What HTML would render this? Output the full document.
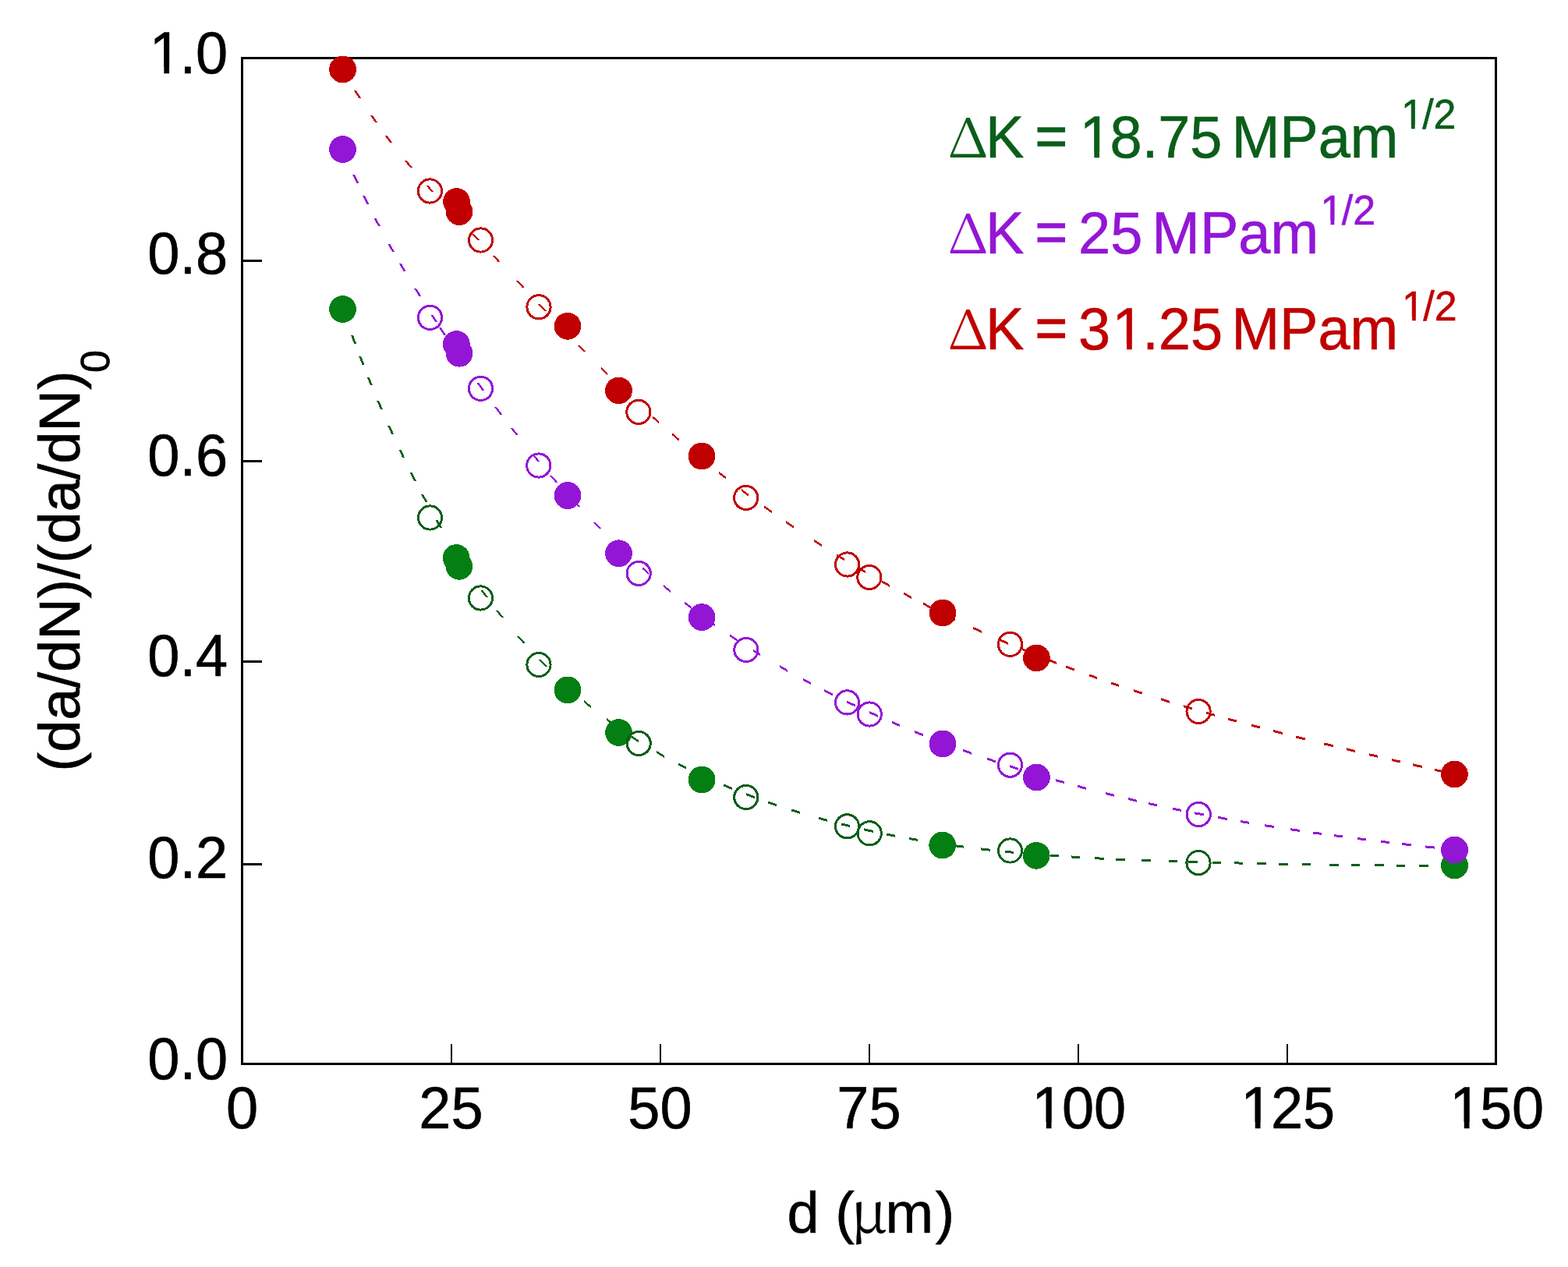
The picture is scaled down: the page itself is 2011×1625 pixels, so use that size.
<!DOCTYPE html><html><head><meta charset="utf-8"><title>chart</title><style>html,body{margin:0;padding:0;background:#fff;overflow:hidden}svg{display:block}.c{shape-rendering:crispEdges}text{font-family:"Liberation Sans",Arial,sans-serif;font-size:74px;stroke:#000;stroke-width:0.6px}</style></head><body>
<svg width="2011" height="1625" viewBox="0 0 2011 1625">
<rect width="2011" height="1625" fill="#fff"/>
<g class="c">
<g fill="#000">
<rect x="309" y="73" width="1611" height="3"/>
<rect x="309" y="1363" width="1611" height="3"/>
<rect x="309" y="73" width="3" height="1293"/>
<rect x="1917" y="73" width="3" height="1293"/>
<rect x="309" y="333" width="27" height="3"/>
<rect x="309" y="590" width="27" height="3"/>
<rect x="309" y="847" width="27" height="3"/>
<rect x="309" y="1107" width="27" height="3"/>
<rect x="577.5" y="1339" width="2" height="25"/>
<rect x="845.5" y="1339" width="2" height="25"/>
<rect x="1113.5" y="1339" width="2" height="25"/>
<rect x="1381.5" y="1339" width="2" height="25"/>
<rect x="1649.5" y="1339" width="2" height="25"/>
</g>
<path d="M439.5,400.7 440.4,403.4 441.4,406.1 442.4,408.8 443.3,411.5 446.3,411.5 445.4,408.8 444.4,406.1 443.4,403.4 442.5,400.7ZM450.0,429.8 451.0,432.5 452.0,435.2 453.0,437.9 454.0,440.6 457.0,440.6 456.0,437.9 455.0,435.2 454.0,432.5 453.0,429.8ZM460.2,456.7 461.2,459.4 462.2,462.1 463.3,464.8 464.3,467.5 467.3,467.5 466.3,464.8 465.2,462.1 464.2,459.4 463.2,456.7ZM470.8,483.8 471.9,486.4 472.9,489.1 474.0,491.8 475.1,494.4 478.1,494.4 477.0,491.8 475.9,489.1 474.9,486.4 473.8,483.8ZM483.3,514.1 484.4,516.8 485.5,519.4 486.7,522.1 487.8,524.7 490.8,524.7 489.7,522.1 488.5,519.4 487.4,516.8 486.3,514.1ZM497.2,546.2 498.4,548.8 499.6,551.4 500.8,554.0 501.9,556.7 504.9,556.7 503.8,554.0 502.6,551.4 501.4,548.8 500.2,546.2ZM511.4,576.9 512.6,579.5 513.8,582.1 515.1,584.7 516.3,587.3 519.3,587.3 518.1,584.7 516.8,582.1 515.6,579.5 514.4,576.9ZM525.7,606.4 527.0,609.0 528.3,611.6 529.6,614.1 530.9,616.7 533.9,616.7 532.6,614.1 531.3,611.6 530.0,609.0 528.7,606.4ZM539.9,633.8 541.2,636.3 542.6,638.8 544.0,641.4 545.3,643.9 548.3,643.9 547.0,641.4 545.6,638.8 544.2,636.3 542.9,633.8ZM558.5,667.4 559.9,669.9 561.4,672.4 562.8,674.9 564.3,677.4 567.3,677.4 565.8,674.9 564.4,672.4 562.9,669.9 561.5,667.4ZM616.0,756.6 617.7,758.9 619.4,761.2 621.1,763.5 622.8,765.9 625.8,765.9 624.1,763.5 622.4,761.2 620.7,758.9 619.0,756.6ZM635.5,782.6 637.3,784.8 639.1,787.1 640.9,789.3 642.7,791.6 645.7,791.6 643.9,789.3 642.1,787.1 640.3,784.8 638.5,782.6ZM662.9,815.8 664.8,818.0 666.7,820.1 668.6,822.3 670.5,824.5 673.5,824.5 671.6,822.3 669.7,820.1 667.8,818.0 665.9,815.8ZM690.7,846.4 692.7,848.4 694.7,850.5 696.7,852.5 698.8,854.6 701.8,854.6 699.7,852.5 697.7,850.5 695.7,848.4 693.7,846.4ZM729.3,880.9 731.5,882.8 733.6,884.8 735.8,886.7 737.9,888.6 737.9,891.6 735.8,889.7 733.6,887.8 731.5,885.8 729.3,883.9ZM748.8,897.9 751.1,899.7 753.3,901.6 755.5,903.4 757.7,905.2 757.7,908.2 755.5,906.4 753.3,904.6 751.1,902.7 748.8,900.9ZM778.2,921.1 780.5,922.8 782.8,924.5 785.1,926.2 787.5,927.9 787.5,930.9 785.1,929.2 782.8,927.5 780.5,925.8 778.2,924.1ZM808.8,942.6 811.2,944.2 813.6,945.8 816.1,947.3 818.5,948.9 818.5,951.9 816.1,950.3 813.6,948.8 811.2,947.2 808.8,945.6ZM842.2,963.2 844.7,964.6 847.2,966.1 849.7,967.5 852.2,968.9 852.2,971.9 849.7,970.5 847.2,969.1 844.7,967.6 842.2,966.2ZM870.1,978.5 872.7,979.8 875.2,981.1 877.8,982.4 880.4,983.7 880.4,986.7 877.8,985.4 875.2,984.1 872.7,982.8 870.1,981.5ZM899.0,992.6 901.6,993.8 904.2,995.0 906.8,996.2 909.4,997.4 909.4,1000.4 906.8,999.2 904.2,998.0 901.6,996.8 899.0,995.6ZM928.4,1005.6 931.0,1006.7 933.7,1007.8 936.4,1008.9 939.0,1010.0 939.0,1013.0 936.4,1011.9 933.7,1010.8 931.0,1009.7 928.4,1008.6ZM957.1,1017.1 959.8,1018.2 962.5,1019.2 965.1,1020.2 967.8,1021.2 967.8,1024.2 965.1,1023.2 962.5,1022.2 959.8,1021.2 957.1,1020.1ZM985.1,1027.4 987.8,1028.3 990.5,1029.3 993.2,1030.2 995.9,1031.1 995.9,1034.1 993.2,1033.2 990.5,1032.3 987.8,1031.3 985.1,1030.4ZM1014.7,1037.3 1017.5,1038.1 1020.2,1039.0 1023.0,1039.8 1025.7,1040.7 1025.7,1043.7 1023.0,1042.8 1020.2,1042.0 1017.5,1041.1 1014.7,1040.3ZM1049.9,1047.7 1052.6,1048.5 1055.4,1049.2 1058.2,1050.0 1060.9,1050.7 1060.9,1053.7 1058.2,1053.0 1055.4,1052.2 1052.6,1051.5 1049.9,1050.7ZM1078.8,1055.4 1081.6,1056.1 1084.4,1056.7 1087.2,1057.4 1090.0,1058.1 1090.0,1061.1 1087.2,1060.4 1084.4,1059.7 1081.6,1059.1 1078.8,1058.4ZM1108.3,1062.4 1111.1,1063.0 1113.9,1063.6 1116.7,1064.2 1119.5,1064.8 1119.5,1067.8 1116.7,1067.2 1113.9,1066.6 1111.1,1066.0 1108.3,1065.4ZM1136.5,1068.4 1139.3,1068.9 1142.2,1069.5 1145.0,1070.0 1147.8,1070.6 1147.8,1073.6 1145.0,1073.0 1142.2,1072.5 1139.3,1071.9 1136.5,1071.4ZM1165.7,1073.9 1168.6,1074.4 1171.4,1074.9 1174.2,1075.4 1177.1,1075.9 1177.1,1078.9 1174.2,1078.4 1171.4,1077.9 1168.6,1077.4 1165.7,1076.9ZM1195.0,1078.8 1197.9,1079.3 1200.7,1079.7 1203.6,1080.1 1206.4,1080.5 1206.4,1083.5 1203.6,1083.1 1200.7,1082.7 1197.9,1082.3 1195.0,1081.8ZM1224.4,1083.1 1227.3,1083.5 1230.1,1083.9 1233.0,1084.3 1235.8,1084.6 1235.8,1087.6 1233.0,1087.3 1230.1,1086.9 1227.3,1086.5 1224.4,1086.1ZM1258.4,1087.4 1261.2,1087.7 1264.1,1088.1 1267.0,1088.4 1269.8,1088.7 1269.8,1091.7 1267.0,1091.4 1264.1,1091.1 1261.2,1090.7 1258.4,1090.4ZM1288.8,1090.7 1291.7,1091.0 1294.5,1091.2 1297.4,1091.5 1300.3,1091.8 1300.3,1094.8 1297.4,1094.5 1294.5,1094.2 1291.7,1094.0 1288.8,1093.7ZM1317.7,1093.3 1320.5,1093.6 1323.4,1093.8 1326.3,1094.1 1329.1,1094.3 1329.1,1097.3 1326.3,1097.1 1323.4,1096.8 1320.5,1096.6 1317.7,1096.3ZM1346.6,1095.6 1349.4,1095.8 1352.3,1096.0 1355.2,1096.2 1358.0,1096.4 1358.0,1099.4 1355.2,1099.2 1352.3,1099.0 1349.4,1098.8 1346.6,1098.6ZM1373.7,1097.4 1376.5,1097.6 1379.4,1097.8 1382.3,1098.0 1385.1,1098.1 1385.1,1101.1 1382.3,1101.0 1379.4,1100.8 1376.5,1100.6 1373.7,1100.4ZM1404.3,1099.2 1407.2,1099.3 1410.1,1099.5 1412.9,1099.6 1415.8,1099.7 1415.8,1102.7 1412.9,1102.6 1410.1,1102.5 1407.2,1102.3 1404.3,1102.2ZM1431.4,1100.5 1434.3,1100.6 1437.2,1100.7 1440.0,1100.8 1442.9,1101.0 1442.9,1104.0 1440.0,1103.8 1437.2,1103.7 1434.3,1103.6 1431.4,1103.5ZM1464.2,1101.8 1467.1,1101.9 1470.0,1102.0 1472.8,1102.1 1475.7,1102.2 1475.7,1105.2 1472.8,1105.1 1470.0,1105.0 1467.1,1104.9 1464.2,1104.8ZM1498.7,1103.0 1501.6,1103.0 1504.4,1103.1 1507.3,1103.2 1510.2,1103.3 1510.2,1106.3 1507.3,1106.2 1504.4,1106.1 1501.6,1106.0 1498.7,1106.0ZM1524.3,1103.7 1527.2,1103.8 1530.1,1103.9 1533.0,1104.0 1535.8,1104.1 1535.8,1107.1 1533.0,1107.0 1530.1,1106.9 1527.2,1106.8 1524.3,1106.7ZM1554.8,1104.6 1557.6,1104.7 1560.5,1104.7 1563.4,1104.8 1566.3,1104.9 1566.3,1107.9 1563.4,1107.8 1560.5,1107.7 1557.6,1107.7 1554.8,1107.6ZM1582.8,1105.3 1585.7,1105.4 1588.6,1105.5 1591.4,1105.5 1594.3,1105.6 1594.3,1108.6 1591.4,1108.5 1588.6,1108.5 1585.7,1108.4 1582.8,1108.3ZM1612.3,1106.0 1615.2,1106.1 1618.0,1106.1 1620.9,1106.2 1623.8,1106.3 1623.8,1109.3 1620.9,1109.2 1618.0,1109.1 1615.2,1109.1 1612.3,1109.0ZM1640.3,1106.6 1643.2,1106.7 1646.1,1106.7 1649.0,1106.8 1651.8,1106.8 1651.8,1109.8 1649.0,1109.8 1646.1,1109.7 1643.2,1109.7 1640.3,1109.6ZM1669.8,1107.2 1672.7,1107.2 1675.6,1107.3 1678.4,1107.3 1681.3,1107.4 1681.3,1110.4 1678.4,1110.3 1675.6,1110.3 1672.7,1110.2 1669.8,1110.2ZM1705.2,1107.7 1708.1,1107.8 1711.0,1107.8 1713.9,1107.8 1716.7,1107.9 1716.7,1110.9 1713.9,1110.8 1711.0,1110.8 1708.1,1110.8 1705.2,1110.7ZM1732.8,1108.1 1735.7,1108.1 1738.6,1108.1 1741.4,1108.1 1744.3,1108.2 1744.3,1111.2 1741.4,1111.1 1738.6,1111.1 1735.7,1111.1 1732.8,1111.1ZM1763.2,1108.3 1766.1,1108.4 1769.0,1108.4 1771.9,1108.4 1774.7,1108.4 1774.7,1111.4 1771.9,1111.4 1769.0,1111.4 1766.1,1111.4 1763.2,1111.3ZM1790.8,1108.5 1793.7,1108.5 1796.6,1108.5 1799.4,1108.5 1802.3,1108.5 1802.3,1111.5 1799.4,1111.5 1796.6,1111.5 1793.7,1111.5 1790.8,1111.5ZM1820.3,1108.5 1823.2,1108.5 1826.0,1108.5 1828.9,1108.5 1831.8,1108.5 1831.8,1111.5 1828.9,1111.5 1826.0,1111.5 1823.2,1111.5 1820.3,1111.5ZM1851.3,1108.5 1854.2,1108.5 1857.0,1108.5 1859.9,1108.4 1862.8,1108.4 1862.8,1111.4 1859.9,1111.4 1857.0,1111.5 1854.2,1111.5 1851.3,1111.5Z" fill="#0A5E1A"/>
<path d="M439.8,195.8 441.0,198.5 442.1,201.1 443.2,203.8 444.4,206.4 447.4,206.4 446.2,203.8 445.1,201.1 444.0,198.5 442.8,195.8ZM452.3,224.2 453.5,226.8 454.7,229.4 455.9,232.0 457.2,234.6 460.2,234.6 458.9,232.0 457.7,229.4 456.5,226.8 455.3,224.2ZM465.0,251.2 466.3,253.8 467.6,256.4 468.8,258.9 470.1,261.5 473.1,261.5 471.8,258.9 470.6,256.4 469.3,253.8 468.0,251.2ZM479.6,280.2 481.0,282.7 482.3,285.3 483.7,287.8 485.0,290.4 488.0,290.4 486.7,287.8 485.3,285.3 484.0,282.7 482.6,280.2ZM497.1,312.5 498.5,315.0 499.9,317.5 501.3,320.0 502.7,322.5 505.7,322.5 504.3,320.0 502.9,317.5 501.5,315.0 500.1,312.5ZM511.7,337.9 513.2,340.4 514.6,342.9 516.1,345.4 517.6,347.8 520.6,347.8 519.1,345.4 517.6,342.9 516.2,340.4 514.7,337.9ZM531.3,370.4 532.8,372.9 534.4,375.3 535.9,377.8 537.4,380.2 540.4,380.2 538.9,377.8 537.4,375.3 535.8,372.9 534.3,370.4ZM552.2,403.5 553.7,406.0 555.3,408.4 556.8,410.8 558.4,413.2 561.4,413.2 559.8,410.8 558.3,408.4 556.7,406.0 555.2,403.5ZM563.1,420.4 564.6,422.8 566.2,425.2 567.8,427.6 569.4,430.0 572.4,430.0 570.8,427.6 569.2,425.2 567.6,422.8 566.1,420.4ZM576.2,440.2 577.8,442.6 579.4,445.0 581.0,447.4 582.6,449.8 585.6,449.8 584.0,447.4 582.4,445.0 580.8,442.6 579.2,440.2ZM589.6,460.0 591.2,462.3 592.8,464.7 594.5,467.1 596.1,469.4 599.1,469.4 597.5,467.1 595.8,464.7 594.2,462.3 592.6,460.0ZM611.6,491.4 613.3,493.7 614.9,496.0 616.6,498.4 618.3,500.7 621.3,500.7 619.6,498.4 617.9,496.0 616.3,493.7 614.6,491.4ZM634.3,522.4 636.0,524.7 637.8,527.0 639.5,529.3 641.2,531.6 644.2,531.6 642.5,529.3 640.8,527.0 639.0,524.7 637.3,522.4ZM654.9,549.3 656.7,551.6 658.4,553.9 660.2,556.1 662.0,558.4 665.0,558.4 663.2,556.1 661.4,553.9 659.7,551.6 657.9,549.3ZM682.1,583.2 683.9,585.4 685.8,587.6 687.6,589.8 689.5,592.0 692.5,592.0 690.6,589.8 688.8,587.6 686.9,585.4 685.1,583.2ZM704.8,610.0 706.7,612.1 708.6,614.3 710.5,616.4 712.4,618.6 715.4,618.6 713.5,616.4 711.6,614.3 709.7,612.1 707.8,610.0ZM733.4,641.8 735.4,643.9 737.4,646.0 739.3,648.1 741.3,650.2 744.3,650.2 742.3,648.1 740.4,646.0 738.4,643.9 736.4,641.8ZM760.4,670.0 762.4,672.0 764.4,674.1 766.5,676.1 768.5,678.1 771.5,678.1 769.5,676.1 767.4,674.1 765.4,672.0 763.4,670.0ZM823.7,726.8 825.8,728.7 828.0,730.6 830.2,732.4 832.3,734.3 832.3,737.3 830.2,735.4 828.0,733.6 825.8,731.7 823.7,729.8ZM851.3,750.3 853.6,752.1 855.8,753.9 858.0,755.7 860.3,757.5 860.3,760.5 858.0,758.7 855.8,756.9 853.6,755.1 851.3,753.3ZM877.9,771.4 880.1,773.2 882.4,774.9 884.7,776.6 887.0,778.4 887.0,781.4 884.7,779.6 882.4,777.9 880.1,776.2 877.9,774.4ZM907.2,793.3 909.5,794.9 911.9,796.6 914.2,798.3 916.6,799.9 916.6,802.9 914.2,801.3 911.9,799.6 909.5,797.9 907.2,796.3ZM936.1,813.3 938.5,814.9 940.9,816.5 943.3,818.1 945.7,819.7 945.7,822.7 943.3,821.1 940.9,819.5 938.5,817.9 936.1,816.3ZM965.5,832.4 967.9,833.9 970.4,835.4 972.8,836.9 975.3,838.4 975.3,841.4 972.8,839.9 970.4,838.4 967.9,836.9 965.5,835.4ZM1000.3,853.3 1002.8,854.8 1005.3,856.2 1007.8,857.6 1010.3,859.0 1010.3,862.0 1007.8,860.6 1005.3,859.2 1002.8,857.8 1000.3,856.3ZM1029.7,869.8 1032.2,871.1 1034.8,872.5 1037.3,873.8 1039.9,875.2 1039.9,878.2 1037.3,876.8 1034.8,875.5 1032.2,874.1 1029.7,872.8ZM1057.2,884.2 1059.8,885.5 1062.3,886.8 1064.9,888.1 1067.5,889.4 1067.5,892.4 1064.9,891.1 1062.3,889.8 1059.8,888.5 1057.2,887.2ZM1086.4,898.6 1089.0,899.8 1091.6,901.1 1094.2,902.3 1096.8,903.5 1096.8,906.5 1094.2,905.3 1091.6,904.1 1089.0,902.8 1086.4,901.6ZM1115.1,912.0 1117.7,913.2 1120.3,914.4 1123.0,915.5 1125.6,916.7 1125.6,919.7 1123.0,918.5 1120.3,917.4 1117.7,916.2 1115.1,915.0ZM1143.8,924.7 1146.5,925.8 1149.1,926.9 1151.7,928.1 1154.4,929.2 1154.4,932.2 1151.7,931.1 1149.1,929.9 1146.5,928.8 1143.8,927.7ZM1173.2,937.0 1175.9,938.1 1178.6,939.2 1181.2,940.2 1183.9,941.3 1183.9,944.3 1181.2,943.2 1178.6,942.2 1175.9,941.1 1173.2,940.0ZM1204.2,949.3 1206.9,950.3 1209.6,951.3 1212.3,952.3 1215.0,953.3 1215.0,956.3 1212.3,955.3 1209.6,954.3 1206.9,953.3 1204.2,952.3ZM1235.4,960.9 1238.1,961.9 1240.9,962.8 1243.6,963.8 1246.3,964.8 1246.3,967.8 1243.6,966.8 1240.9,965.8 1238.1,964.9 1235.4,963.9ZM1266.3,971.7 1269.0,972.6 1271.8,973.6 1274.5,974.5 1277.2,975.4 1277.2,978.4 1274.5,977.5 1271.8,976.6 1269.0,975.6 1266.3,974.7ZM1295.3,981.3 1298.0,982.2 1300.7,983.0 1303.5,983.9 1306.2,984.8 1306.2,987.8 1303.5,986.9 1300.7,986.0 1298.0,985.2 1295.3,984.3ZM1324.4,990.4 1327.2,991.2 1329.9,992.0 1332.7,992.9 1335.4,993.7 1335.4,996.7 1332.7,995.9 1329.9,995.0 1327.2,994.2 1324.4,993.4ZM1353.7,999.0 1356.5,999.8 1359.2,1000.5 1362.0,1001.3 1364.8,1002.1 1364.8,1005.1 1362.0,1004.3 1359.2,1003.5 1356.5,1002.8 1353.7,1002.0ZM1382.2,1006.8 1385.0,1007.6 1387.7,1008.3 1390.5,1009.1 1393.3,1009.8 1393.3,1012.8 1390.5,1012.1 1387.7,1011.3 1385.0,1010.6 1382.2,1009.8ZM1417.6,1016.0 1420.4,1016.7 1423.2,1017.4 1426.0,1018.1 1428.7,1018.7 1428.7,1021.7 1426.0,1021.1 1423.2,1020.4 1420.4,1019.7 1417.6,1019.0ZM1446.6,1023.0 1449.4,1023.6 1452.2,1024.3 1455.0,1024.9 1457.8,1025.6 1457.8,1028.6 1455.0,1027.9 1452.2,1027.3 1449.4,1026.6 1446.6,1026.0ZM1472.9,1029.0 1475.7,1029.6 1478.5,1030.2 1481.4,1030.8 1484.2,1031.4 1484.2,1034.4 1481.4,1033.8 1478.5,1033.2 1475.7,1032.6 1472.9,1032.0ZM1503.6,1035.5 1506.4,1036.1 1509.2,1036.7 1512.0,1037.2 1514.8,1037.8 1514.8,1040.8 1512.0,1040.2 1509.2,1039.7 1506.4,1039.1 1503.6,1038.5ZM1532.3,1041.3 1535.1,1041.8 1538.0,1042.4 1540.8,1042.9 1543.6,1043.4 1543.6,1046.4 1540.8,1045.9 1538.0,1045.4 1535.1,1044.8 1532.3,1044.3ZM1562.3,1046.9 1565.1,1047.4 1567.9,1047.9 1570.7,1048.4 1573.6,1048.9 1573.6,1051.9 1570.7,1051.4 1567.9,1050.9 1565.1,1050.4 1562.3,1049.9ZM1590.5,1051.9 1593.4,1052.4 1596.2,1052.9 1599.0,1053.3 1601.9,1053.8 1601.9,1056.8 1599.0,1056.3 1596.2,1055.9 1593.4,1055.4 1590.5,1054.9ZM1622.1,1057.1 1625.0,1057.6 1627.8,1058.0 1630.7,1058.5 1633.5,1058.9 1633.5,1061.9 1630.7,1061.5 1627.8,1061.0 1625.0,1060.6 1622.1,1060.1ZM1655.4,1062.3 1658.2,1062.7 1661.1,1063.1 1663.9,1063.5 1666.8,1063.9 1666.8,1066.9 1663.9,1066.5 1661.1,1066.1 1658.2,1065.7 1655.4,1065.3ZM1683.7,1066.4 1686.5,1066.8 1689.4,1067.2 1692.2,1067.6 1695.1,1068.0 1695.1,1071.0 1692.2,1070.6 1689.4,1070.2 1686.5,1069.8 1683.7,1069.4ZM1711.0,1070.1 1713.9,1070.5 1716.7,1070.9 1719.6,1071.3 1722.4,1071.6 1722.4,1074.6 1719.6,1074.3 1716.7,1073.9 1713.9,1073.5 1711.0,1073.1ZM1740.7,1074.0 1743.6,1074.4 1746.4,1074.7 1749.3,1075.1 1752.1,1075.4 1752.1,1078.4 1749.3,1078.1 1746.4,1077.7 1743.6,1077.4 1740.7,1077.0ZM1770.7,1077.7 1773.5,1078.0 1776.4,1078.4 1779.2,1078.7 1782.1,1079.1 1782.1,1082.1 1779.2,1081.7 1776.4,1081.4 1773.5,1081.0 1770.7,1080.7ZM1798.2,1080.9 1801.1,1081.3 1803.9,1081.6 1806.8,1081.9 1809.7,1082.3 1809.7,1085.3 1806.8,1084.9 1803.9,1084.6 1801.1,1084.3 1798.2,1083.9ZM1828.4,1084.4 1831.3,1084.7 1834.1,1085.0 1837.0,1085.3 1839.8,1085.6 1839.8,1088.6 1837.0,1088.3 1834.1,1088.0 1831.3,1087.7 1828.4,1087.4Z" fill="#9316D6"/>
<path d="M453.8,115.9 455.3,118.3 456.9,120.8 458.4,123.2 460.0,125.6 463.0,125.6 461.4,123.2 459.9,120.8 458.3,118.3 456.8,115.9ZM474.8,147.9 476.4,150.3 478.0,152.7 479.7,155.0 481.3,157.4 484.3,157.4 482.7,155.0 481.0,152.7 479.4,150.3 477.8,147.9ZM493.3,173.8 495.1,176.1 496.8,178.4 498.5,180.7 500.3,183.0 503.3,183.0 501.5,180.7 499.8,178.4 498.1,176.1 496.3,173.8ZM519.0,206.4 520.9,208.7 522.7,210.9 524.6,213.1 526.4,215.3 529.4,215.3 527.6,213.1 525.7,210.9 523.9,208.7 522.0,206.4ZM546.2,237.8 548.1,240.0 550.0,242.1 552.0,244.2 553.9,246.3 556.9,246.3 555.0,244.2 553.0,242.1 551.1,240.0 549.2,237.8ZM580.5,274.7 582.5,276.8 584.5,278.9 586.5,280.9 588.5,283.0 591.5,283.0 589.5,280.9 587.5,278.9 585.5,276.8 583.5,274.7ZM604.3,299.5 606.3,301.6 608.3,303.6 610.3,305.7 612.2,307.8 615.2,307.8 613.3,305.7 611.3,303.6 609.3,301.6 607.3,299.5ZM631.4,328.0 633.4,330.1 635.4,332.2 637.3,334.3 639.3,336.4 642.3,336.4 640.3,334.3 638.4,332.2 636.4,330.1 634.4,328.0ZM661.6,360.1 663.6,362.2 665.6,364.3 667.5,366.4 669.5,368.5 672.5,368.5 670.5,366.4 668.6,364.3 666.6,362.2 664.6,360.1ZM690.1,390.4 692.1,392.5 694.1,394.6 696.0,396.7 698.0,398.8 701.0,398.8 699.0,396.7 697.1,394.6 695.1,392.5 693.1,390.4ZM715.2,416.8 717.2,418.9 719.1,421.0 721.1,423.0 723.1,425.1 726.1,425.1 724.1,423.0 722.1,421.0 720.2,418.9 718.2,416.8ZM740.4,443.0 742.5,445.1 744.5,447.1 746.5,449.2 748.5,451.2 751.5,451.2 749.5,449.2 747.5,447.1 745.5,445.1 743.4,443.0ZM770.6,470.5 772.7,472.5 774.7,474.5 776.8,476.5 778.8,478.5 778.8,481.5 776.8,479.5 774.7,477.5 772.7,475.5 770.6,473.5ZM792.2,491.5 794.3,493.5 796.4,495.5 798.5,497.5 800.6,499.5 800.6,502.5 798.5,500.5 796.4,498.5 794.3,496.5 792.2,494.5ZM836.5,532.6 838.6,534.6 840.8,536.5 842.9,538.4 845.1,540.3 845.1,543.3 842.9,541.4 840.8,539.5 838.6,537.6 836.5,535.6ZM861.9,555.0 864.0,556.9 866.2,558.7 868.4,560.6 870.6,562.5 870.6,565.5 868.4,563.6 866.2,561.7 864.0,559.9 861.9,558.0ZM901.7,588.4 904.0,590.2 906.2,592.0 908.5,593.8 910.7,595.6 910.7,598.6 908.5,596.8 906.2,595.0 904.0,593.2 901.7,591.4ZM922.1,604.7 924.3,606.4 926.6,608.2 928.9,610.0 931.1,611.7 931.1,614.7 928.9,613.0 926.6,611.2 924.3,609.4 922.1,607.7ZM951.2,627.1 953.5,628.8 955.8,630.5 958.1,632.2 960.4,634.0 960.4,637.0 958.1,635.2 955.8,633.5 953.5,631.8 951.2,630.1ZM980.4,648.5 982.7,650.2 985.1,651.8 987.4,653.5 989.7,655.1 989.7,658.1 987.4,656.5 985.1,654.8 982.7,653.2 980.4,651.5ZM1008.4,668.1 1010.7,669.7 1013.1,671.3 1015.5,673.0 1017.9,674.6 1017.9,677.6 1015.5,676.0 1013.1,674.3 1010.7,672.7 1008.4,671.1ZM1043.9,691.8 1046.3,693.3 1048.8,694.9 1051.2,696.5 1053.6,698.0 1053.6,701.0 1051.2,699.5 1048.8,697.9 1046.3,696.3 1043.9,694.8ZM1073.3,710.4 1075.8,711.9 1078.2,713.4 1080.7,714.9 1083.1,716.4 1083.1,719.4 1080.7,717.9 1078.2,716.4 1075.8,714.9 1073.3,713.4ZM1099.9,726.4 1102.4,727.8 1104.8,729.3 1107.3,730.7 1109.8,732.2 1109.8,735.2 1107.3,733.7 1104.8,732.3 1102.4,730.8 1099.9,729.4ZM1130.7,744.1 1133.2,745.5 1135.7,746.9 1138.3,748.3 1140.8,749.7 1140.8,752.7 1138.3,751.3 1135.7,749.9 1133.2,748.5 1130.7,747.1ZM1159.0,759.6 1161.5,760.9 1164.0,762.3 1166.6,763.6 1169.1,764.9 1169.1,767.9 1166.6,766.6 1164.0,765.3 1161.5,763.9 1159.0,762.6ZM1184.3,772.8 1186.9,774.2 1189.5,775.5 1192.0,776.8 1194.6,778.1 1194.6,781.1 1192.0,779.8 1189.5,778.5 1186.9,777.2 1184.3,775.8ZM1214.7,788.0 1217.3,789.3 1219.9,790.5 1222.5,791.8 1225.1,793.0 1225.1,796.0 1222.5,794.8 1219.9,793.5 1217.3,792.3 1214.7,791.0ZM1248.4,804.0 1251.0,805.2 1253.6,806.4 1256.2,807.6 1258.9,808.7 1258.9,811.7 1256.2,810.6 1253.6,809.4 1251.0,808.2 1248.4,807.0ZM1282.1,819.0 1284.7,820.2 1287.4,821.3 1290.0,822.5 1292.7,823.6 1292.7,826.6 1290.0,825.5 1287.4,824.3 1284.7,823.2 1282.1,822.0ZM1310.8,831.2 1313.5,832.3 1316.1,833.4 1318.8,834.5 1321.5,835.6 1321.5,838.6 1318.8,837.5 1316.1,836.4 1313.5,835.3 1310.8,834.2ZM1343.8,844.5 1346.5,845.6 1349.2,846.6 1351.9,847.7 1354.5,848.7 1354.5,851.7 1351.9,850.7 1349.2,849.6 1346.5,848.6 1343.8,847.5ZM1367.3,853.6 1370.0,854.6 1372.7,855.6 1375.4,856.6 1378.1,857.6 1378.1,860.6 1375.4,859.6 1372.7,858.6 1370.0,857.6 1367.3,856.6ZM1396.5,864.3 1399.2,865.3 1401.9,866.3 1404.6,867.2 1407.4,868.2 1407.4,871.2 1404.6,870.2 1401.9,869.3 1399.2,868.3 1396.5,867.3ZM1424.5,874.2 1427.3,875.1 1430.0,876.1 1432.7,877.0 1435.4,877.9 1435.4,880.9 1432.7,880.0 1430.0,879.1 1427.3,878.1 1424.5,877.2ZM1454.2,884.2 1457.0,885.1 1459.7,886.0 1462.4,886.9 1465.2,887.7 1465.2,890.7 1462.4,889.9 1459.7,889.0 1457.0,888.1 1454.2,887.2ZM1489.1,895.3 1491.9,896.2 1494.6,897.0 1497.4,897.9 1500.1,898.7 1500.1,901.7 1497.4,900.9 1494.6,900.0 1491.9,899.2 1489.1,898.3ZM1517.6,904.0 1520.4,904.9 1523.2,905.7 1525.9,906.5 1528.7,907.3 1528.7,910.3 1525.9,909.5 1523.2,908.7 1520.4,907.9 1517.6,907.0ZM1546.9,912.6 1549.6,913.4 1552.4,914.2 1555.1,915.0 1557.9,915.8 1557.9,918.8 1555.1,918.0 1552.4,917.2 1549.6,916.4 1546.9,915.6ZM1574.6,920.4 1577.4,921.2 1580.2,922.0 1583.0,922.7 1585.7,923.5 1585.7,926.5 1583.0,925.7 1580.2,925.0 1577.4,924.2 1574.6,923.4ZM1604.6,928.6 1607.4,929.3 1610.1,930.1 1612.9,930.8 1615.7,931.5 1615.7,934.5 1612.9,933.8 1610.1,933.1 1607.4,932.3 1604.6,931.6ZM1633.3,936.1 1636.1,936.9 1638.9,937.6 1641.7,938.3 1644.5,939.0 1644.5,942.0 1641.7,941.3 1638.9,940.6 1636.1,939.9 1633.3,939.1ZM1662.3,943.5 1665.1,944.2 1667.9,944.9 1670.7,945.6 1673.5,946.3 1673.5,949.3 1670.7,948.6 1667.9,947.9 1665.1,947.2 1662.3,946.5ZM1698.4,952.5 1701.2,953.2 1704.0,953.8 1706.8,954.5 1709.6,955.2 1709.6,958.2 1706.8,957.5 1704.0,956.8 1701.2,956.2 1698.4,955.5ZM1727.2,959.4 1730.0,960.1 1732.8,960.8 1735.6,961.4 1738.4,962.1 1738.4,965.1 1735.6,964.4 1732.8,963.8 1730.0,963.1 1727.2,962.4ZM1755.5,966.1 1758.3,966.8 1761.1,967.4 1763.9,968.1 1766.7,968.7 1766.7,971.7 1763.9,971.1 1761.1,970.4 1758.3,969.8 1755.5,969.1ZM1784.5,972.9 1787.3,973.6 1790.1,974.2 1792.9,974.9 1795.7,975.5 1795.7,978.5 1792.9,977.9 1790.1,977.2 1787.3,976.6 1784.5,975.9ZM1812.3,979.3 1815.1,980.0 1817.9,980.6 1820.7,981.3 1823.5,981.9 1823.5,984.9 1820.7,984.3 1817.9,983.6 1815.1,983.0 1812.3,982.3ZM1840.1,985.8 1842.9,986.4 1845.7,987.1 1848.5,987.7 1851.3,988.3 1851.3,991.3 1848.5,990.7 1845.7,990.1 1842.9,989.4 1840.1,988.8Z" fill="#C00000"/>
<circle cx="439.5" cy="396.5" r="17.4" fill="#047F14"/>
<circle cx="585.2" cy="715.5" r="17.4" fill="#047F14"/>
<circle cx="588.8" cy="726.3" r="17.4" fill="#047F14"/>
<circle cx="728" cy="884.9" r="17.4" fill="#047F14"/>
<circle cx="793.5" cy="939.5" r="17.4" fill="#047F14"/>
<circle cx="900.1" cy="1000" r="17.4" fill="#047F14"/>
<circle cx="1208.7" cy="1084" r="17.4" fill="#047F14"/>
<circle cx="1329.2" cy="1097.3" r="17.4" fill="#047F14"/>
<circle cx="1865.5" cy="1110" r="17.4" fill="#047F14"/>
<circle cx="439.6" cy="191.5" r="17.4" fill="#9316D6"/>
<circle cx="585.4" cy="441.5" r="17.4" fill="#9316D6"/>
<circle cx="589" cy="453.2" r="17.4" fill="#9316D6"/>
<circle cx="728" cy="635.5" r="17.4" fill="#9316D6"/>
<circle cx="793.5" cy="709.8" r="17.4" fill="#9316D6"/>
<circle cx="900.1" cy="791.6" r="17.4" fill="#9316D6"/>
<circle cx="1209" cy="953.9" r="17.4" fill="#9316D6"/>
<circle cx="1329.4" cy="997" r="17.4" fill="#9316D6"/>
<circle cx="1865.5" cy="1090" r="17.4" fill="#9316D6"/>
<circle cx="439.6" cy="89" r="17.4" fill="#C00000"/>
<circle cx="585.5" cy="258.5" r="17.4" fill="#C00000"/>
<circle cx="589" cy="271.5" r="17.4" fill="#C00000"/>
<circle cx="728" cy="418.3" r="17.4" fill="#C00000"/>
<circle cx="793.5" cy="500.9" r="17.4" fill="#C00000"/>
<circle cx="900" cy="585" r="17.4" fill="#C00000"/>
<circle cx="1209" cy="786" r="17.4" fill="#C00000"/>
<circle cx="1329.4" cy="843.9" r="17.4" fill="#C00000"/>
<circle cx="1865.4" cy="993" r="17.4" fill="#C00000"/>
<circle cx="551.5" cy="664" r="15.1" fill="none" stroke="#0A5E1A" stroke-width="3"/>
<circle cx="616.4" cy="767" r="15.1" fill="none" stroke="#0A5E1A" stroke-width="3"/>
<circle cx="691" cy="852.5" r="15.1" fill="none" stroke="#0A5E1A" stroke-width="3"/>
<circle cx="819.2" cy="953.5" r="15.1" fill="none" stroke="#0A5E1A" stroke-width="3"/>
<circle cx="956.8" cy="1022.5" r="15.1" fill="none" stroke="#0A5E1A" stroke-width="3"/>
<circle cx="1086.5" cy="1059.8" r="15.1" fill="none" stroke="#0A5E1A" stroke-width="3"/>
<circle cx="1115.2" cy="1068.8" r="15.1" fill="none" stroke="#0A5E1A" stroke-width="3"/>
<circle cx="1295.5" cy="1091" r="15.1" fill="none" stroke="#0A5E1A" stroke-width="3"/>
<circle cx="1537" cy="1106.6" r="15.1" fill="none" stroke="#0A5E1A" stroke-width="3"/>
<circle cx="551.5" cy="407.4" r="15.1" fill="none" stroke="#9316D6" stroke-width="3"/>
<circle cx="616.5" cy="498.4" r="15.1" fill="none" stroke="#9316D6" stroke-width="3"/>
<circle cx="690.8" cy="597" r="15.1" fill="none" stroke="#9316D6" stroke-width="3"/>
<circle cx="819.2" cy="735.4" r="15.1" fill="none" stroke="#9316D6" stroke-width="3"/>
<circle cx="956.9" cy="833.5" r="15.1" fill="none" stroke="#9316D6" stroke-width="3"/>
<circle cx="1086.5" cy="900.9" r="15.1" fill="none" stroke="#9316D6" stroke-width="3"/>
<circle cx="1115.2" cy="916" r="15.1" fill="none" stroke="#9316D6" stroke-width="3"/>
<circle cx="1295.5" cy="981.2" r="15.1" fill="none" stroke="#9316D6" stroke-width="3"/>
<circle cx="1537.3" cy="1044.5" r="15.1" fill="none" stroke="#9316D6" stroke-width="3"/>
<circle cx="551.4" cy="245" r="15.1" fill="none" stroke="#C00000" stroke-width="3"/>
<circle cx="616.5" cy="308" r="15.1" fill="none" stroke="#C00000" stroke-width="3"/>
<circle cx="691" cy="393.8" r="15.1" fill="none" stroke="#C00000" stroke-width="3"/>
<circle cx="818.9" cy="528.4" r="15.1" fill="none" stroke="#C00000" stroke-width="3"/>
<circle cx="956.7" cy="638.4" r="15.1" fill="none" stroke="#C00000" stroke-width="3"/>
<circle cx="1086.6" cy="724" r="15.1" fill="none" stroke="#C00000" stroke-width="3"/>
<circle cx="1114.9" cy="740.5" r="15.1" fill="none" stroke="#C00000" stroke-width="3"/>
<circle cx="1295.5" cy="826.4" r="15.1" fill="none" stroke="#C00000" stroke-width="3"/>
<circle cx="1537.1" cy="912.5" r="15.1" fill="none" stroke="#C00000" stroke-width="3"/>
</g>
<text transform="translate(189.3298828125,93.8) scale(1.0,1.035)" clip-path="url(#k0)" dx="2.5 -2.5 0">1.0</text>
<text transform="translate(189.3298828125,350.9) scale(1.0,1.035)">0.8</text>
<text transform="translate(189.3298828125,609.7) scale(1.0,1.035)">0.6</text>
<text transform="translate(189.3298828125,866.8) scale(1.0,1.035)">0.4</text>
<text transform="translate(189.3298828125,1125.9) scale(1.0,1.035)">0.2</text>
<text transform="translate(189.3298828125,1383.8) scale(1.0,1.035)">0.0</text>
<text transform="translate(289.92236328125,1446.8) scale(1.0,1.035)">0</text>
<text transform="translate(537.3447265625,1446.8) scale(1.0,1.035)">25</text>
<text transform="translate(805.3447265625,1446.8) scale(1.0,1.035)">50</text>
<text transform="translate(1073.3447265625,1446.8) scale(1.0,1.035)">75</text>
<text transform="translate(1320.76708984375,1446.8) scale(1.0,1.035)" clip-path="url(#k1)" dx="2.5 -2.5 0">100</text>
<text transform="translate(1588.76708984375,1446.8) scale(1.0,1.035)" clip-path="url(#k2)" dx="2.5 -2.5 0">125</text>
<text transform="translate(1856.76708984375,1446.8) scale(1.0,1.035)" clip-path="url(#k3)" dx="2.5 -2.5 0">150</text>
<text transform="translate(1009.6,1580.8) scale(1.0,1.0)">d (</text>
<text transform="translate(1091.0,1580.8) scale(1.0,1.0)" style="font-family:'Noto Serif CJK SC','Liberation Serif',serif;stroke-width:0.3px;">&#956;</text>
<text transform="translate(1135.4,1580.8) scale(1.0,1.0)">m</text>
<text transform="translate(1199.6,1580.8) scale(1.0,1.0)">)</text>
<text transform="translate(102,989.5) rotate(-90)">(da/dN)/(da/dN)<tspan style="font-size:52px" dx="-2.5" dy="37.5">0</tspan></text>
<text transform="translate(1215,202) scale(1.05,0.945)" style="font-family:'Noto Serif CJK SC','Liberation Serif',serif;stroke:#0A5E1A;stroke-width:0px;" fill="#0A5E1A">&#916;</text>
<text transform="translate(1264,202) scale(1.0,1.035)" style="stroke:#0A5E1A;" fill="#0A5E1A">K</text>
<text transform="translate(1327.8,198.5) scale(0.95,0.952)" style="stroke:#0A5E1A;stroke-width:1.5px;" fill="#0A5E1A">=</text>
<text transform="translate(1382.3,202) scale(1.0,1.035)" clip-path="url(#k4)" dx="2.5 -2.5 0 0 0" style="stroke:#0A5E1A;" fill="#0A5E1A">18.75</text>
<text transform="translate(1579.7,202) scale(1.0,1.035)" style="stroke:#0A5E1A;" fill="#0A5E1A">MPam</text>
<text transform="translate(1795.2,165) scale(1.0,1.035)" clip-path="url(#k5)" dx="1.75676 -1.75676 0" style="font-size:52px;stroke:#0A5E1A;" fill="#0A5E1A">1/2</text>
<text transform="translate(1215,325) scale(1.05,0.945)" style="font-family:'Noto Serif CJK SC','Liberation Serif',serif;stroke:#9316D6;stroke-width:0px;" fill="#9316D6">&#916;</text>
<text transform="translate(1264,325) scale(1.0,1.035)" style="stroke:#9316D6;" fill="#9316D6">K</text>
<text transform="translate(1327.8,321.5) scale(0.95,0.952)" style="stroke:#9316D6;stroke-width:1.5px;" fill="#9316D6">=</text>
<text transform="translate(1383,325) scale(1.0,1.035)" style="stroke:#9316D6;" fill="#9316D6">25</text>
<text transform="translate(1477.3,325) scale(1.0,1.035)" style="stroke:#9316D6;" fill="#9316D6">MPam</text>
<text transform="translate(1691.8,288) scale(1.0,1.035)" clip-path="url(#k6)" dx="1.75676 -1.75676 0" style="font-size:52px;stroke:#9316D6;" fill="#9316D6">1/2</text>
<text transform="translate(1215,448) scale(1.05,0.945)" style="font-family:'Noto Serif CJK SC','Liberation Serif',serif;stroke:#C00000;stroke-width:0px;" fill="#C00000">&#916;</text>
<text transform="translate(1264,448) scale(1.0,1.035)" style="stroke:#C00000;" fill="#C00000">K</text>
<text transform="translate(1327.8,444.5) scale(0.95,0.952)" style="stroke:#C00000;stroke-width:1.5px;" fill="#C00000">=</text>
<text transform="translate(1382.9,448) scale(1.0,1.035)" clip-path="url(#k7)" dx="0 2.5 -2.5 0 0" style="stroke:#C00000;" fill="#C00000">31.25</text>
<text transform="translate(1579.4,448) scale(1.0,1.035)" style="stroke:#C00000;" fill="#C00000">MPam</text>
<text transform="translate(1796.3,411) scale(1.0,1.035)" clip-path="url(#k8)" dx="1.75676 -1.75676 0" style="font-size:52px;stroke:#C00000;" fill="#C00000">1/2</text>
<defs><clipPath id="k0"><path clip-rule="evenodd" d="M-3000,-3000H3000V3000H-3000ZM5.50,-7.20H21.00V2.00H5.50ZM27.75,-7.20H40.90V2.00H27.75Z"/></clipPath><clipPath id="k1"><path clip-rule="evenodd" d="M-3000,-3000H3000V3000H-3000ZM5.50,-7.20H21.00V2.00H5.50ZM27.75,-7.20H40.90V2.00H27.75Z"/></clipPath><clipPath id="k2"><path clip-rule="evenodd" d="M-3000,-3000H3000V3000H-3000ZM5.50,-7.20H21.00V2.00H5.50ZM27.75,-7.20H40.90V2.00H27.75Z"/></clipPath><clipPath id="k3"><path clip-rule="evenodd" d="M-3000,-3000H3000V3000H-3000ZM5.50,-7.20H21.00V2.00H5.50ZM27.75,-7.20H40.90V2.00H27.75Z"/></clipPath><clipPath id="k4"><path clip-rule="evenodd" d="M-3000,-3000H3000V3000H-3000ZM5.50,-7.20H21.00V2.00H5.50ZM27.75,-7.20H40.90V2.00H27.75Z"/></clipPath><clipPath id="k5"><path clip-rule="evenodd" d="M-3000,-3000H3000V3000H-3000ZM3.86,-5.06H14.76V1.41H3.86ZM19.50,-5.06H28.74V1.41H19.50Z"/></clipPath><clipPath id="k6"><path clip-rule="evenodd" d="M-3000,-3000H3000V3000H-3000ZM3.86,-5.06H14.76V1.41H3.86ZM19.50,-5.06H28.74V1.41H19.50Z"/></clipPath><clipPath id="k7"><path clip-rule="evenodd" d="M-3000,-3000H3000V3000H-3000ZM46.66,-7.20H62.16V2.00H46.66ZM68.91,-7.20H82.06V2.00H68.91Z"/></clipPath><clipPath id="k8"><path clip-rule="evenodd" d="M-3000,-3000H3000V3000H-3000ZM3.86,-5.06H14.76V1.41H3.86ZM19.50,-5.06H28.74V1.41H19.50Z"/></clipPath></defs>
</svg></body></html>
